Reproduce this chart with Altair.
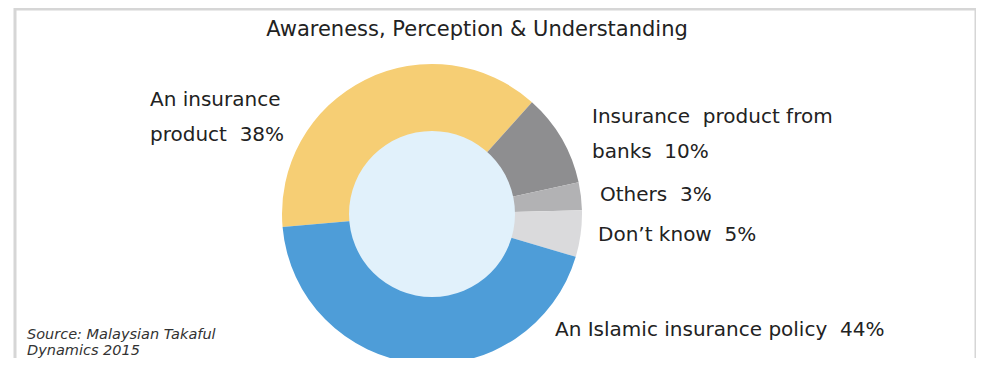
import math
import altair as alt
import pandas as pd

# ---- data ----
categories = ["An insurance product", "Insurance product from banks", "Others", "Don't know", "An Islamic insurance policy"]
values = [38, 10, 3, 5, 44]
NB = "\u00a0"
label_texts = ["An insurance\nproduct", "Insurance" + NB + " product from\nbanks", "Others", "Don\u2019t know", "An Islamic insurance policy"]
colors = ["#F6CE74", "#8E8E90", "#B2B2B4", "#DADADC", "#4E9DD8"]
title_text = "Awareness, Perception & Understanding"
source_text = "Source: Malaysian Takaful\nDynamics 2015"

# ---- layout ----
W, H = 968, 350
CX, CY = 424, 206
R_OUT, R_IN = 150, 83
START = math.radians(265)
FONT = "DejaVu Sans"
label_pos = [(142, 82, True), (584, 99, True), (592, 187, False), (590, 227, False), (547, 322, False)]

df = pd.DataFrame({"category": categories, "value": values, "idx": list(range(len(values)))})

donut = alt.Chart(df).mark_arc(innerRadius=R_IN - 2, outerRadius=R_OUT).encode(
    theta=alt.Theta("value:Q", stack=True, scale=alt.Scale(range=[START, START + 2 * math.pi])),
    color=alt.Color("category:N", scale=alt.Scale(domain=categories, range=colors), legend=None),
    order=alt.Order("idx:Q"),
    x=alt.value(CX), y=alt.value(CY),
)

inner = alt.Chart(pd.DataFrame({"a": [0]})).mark_circle(
    size=(2 * R_IN) ** 2, color="#E1F1FB", opacity=1
).encode(x=alt.value(CX), y=alt.value(CY))

border = alt.Chart(pd.DataFrame({"a": [0]})).mark_rect(
    fill=None, stroke="#D6D6D6", strokeWidth=3
).encode(x=alt.value(7), x2=alt.value(968), y=alt.value(1), y2=alt.value(420))

layers = [border, donut, inner]

title = alt.Chart(pd.DataFrame({"t": [title_text]})).mark_text(
    font=FONT, fontSize=21, color="#222222", align="center", baseline="middle"
).encode(text="t:N", x=alt.value(469), y=alt.value(22))
layers.append(title)

for txt, v, (lx, ly, two) in zip(label_texts, values, label_pos):
    full = f"{txt}{NB} {v}%"
    if two:
        m = alt.Chart(pd.DataFrame({"t": [full]})).mark_text(
            font=FONT, fontSize=20, color="#222222", align="left", baseline="top",
            lineBreak="\n", lineHeight=35
        ).encode(text="t:N", x=alt.value(lx), y=alt.value(ly))
    else:
        m = alt.Chart(pd.DataFrame({"t": [full]})).mark_text(
            font=FONT, fontSize=20, color="#222222", align="left", baseline="middle"
        ).encode(text="t:N", x=alt.value(lx), y=alt.value(ly))
    layers.append(m)

src = alt.Chart(pd.DataFrame({"t": [source_text]})).mark_text(
    font=FONT, fontSize=14.5, fontStyle="italic", color="#333333", align="left", baseline="top",
    lineBreak="\n", lineHeight=16
).encode(text="t:N", x=alt.value(19), y=alt.value(320))
layers.append(src)

chart = alt.layer(*layers).properties(
    width=W, height=H, padding=0, autosize="none"
).configure_view(stroke=None)

chart.save("out.html", embed_options={"renderer": "svg", "actions": False})
